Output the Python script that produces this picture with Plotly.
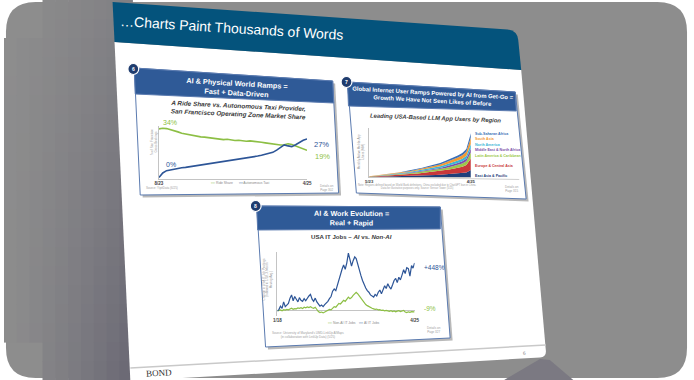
import plotly.graph_objects as go
import pandas as pd

W, H = 694, 380

# ---------------- DATA ----------------
# Chart 6: SF market share (%), Ride Share vs Autonomous Taxi, 8/23 -> 4/25
share_dates = pd.date_range("2023-08-01", "2025-04-30", periods=40)
ride_share = [34.0, 34.4, 34.2, 33.6, 32.8, 31.9, 31.0, 30.4, 29.9, 29.3, 28.9, 28.4, 28.2, 27.8,
              27.4, 27.1, 26.9, 26.5, 26.7, 26.3, 25.9, 26.1, 25.7, 25.4, 25.6, 25.1, 24.8, 24.6,
              24.2, 23.8, 23.4, 23.0, 22.7, 22.9, 23.6, 23.1, 22.0, 20.8, 19.7, 19.0]
autonomous_taxi = [0.0, 3.2, 4.8, 5.4, 5.9, 6.3, 6.8, 7.1, 7.5, 7.9, 8.4, 8.9, 9.1, 9.4, 9.9, 10.2,
                   10.6, 11.0, 11.4, 11.9, 12.4, 12.9, 13.1, 13.6, 14.0, 14.6, 15.0, 15.6, 16.1, 16.6,
                   17.6, 19.2, 21.0, 22.8, 22.1, 21.6, 22.9, 24.6, 26.0, 27.0]
share_ticks = ["8/23", "4/25"]

# Chart 7: LLM app users by region (MM), 5/23 -> 4/25
llm_months = pd.date_range("2023-05-01", "2025-04-01", freq="MS")
east_asia_pacific = [1.4, 2.3, 3.2, 4.1, 5.0, 6.3, 7.6, 8.9, 10.3, 11.7, 13.3, 15.2, 17.1, 19.0, 20.9,
                     23.1, 25.3, 28.5, 31.6, 35.1, 39.2, 43.5, 50.6, 79]
europe_central_asia = [2.1, 3.7, 5.3, 6.9, 8.5, 10.6, 12.7, 14.8, 17.2, 19.6, 22.3, 25.4, 28.6, 31.8,
                       35.0, 38.7, 42.4, 47.7, 53.0, 58.8, 65.7, 72.9, 84.8, 132]
latin_america = [1.0, 1.8, 2.6, 3.5, 4.3, 5.4, 6.5, 7.6, 8.8, 10.0, 11.4, 13.0, 14.6, 16.3, 17.9, 19.8,
                 21.7, 24.4, 27.2, 30.2, 33.7, 37.4, 43.5, 68]
middle_east_na = [0.7, 1.2, 1.7, 2.3, 2.8, 3.5, 4.2, 4.9, 5.7, 6.5, 7.4, 8.4, 9.5, 10.6, 11.6, 12.9,
                  14.1, 15.9, 17.6, 19.6, 21.9, 24.3, 28.2, 44]
north_america = [1.3, 2.1, 2.9, 3.6, 4.3, 5.2, 6.1, 6.9, 7.9, 8.8, 9.8, 11.0, 12.2, 13.4, 14.6, 16.0,
                 17.4, 19.4, 21.4, 23.6, 26.2, 28.9, 33.4, 52]
south_asia = [0.9, 1.7, 2.5, 3.3, 4.1, 5.2, 6.3, 7.4, 8.6, 9.9, 11.3, 13.0, 14.7, 16.4, 18.2, 20.2,
              22.3, 25.2, 28.2, 31.4, 35.2, 39.2, 45.8, 73]
sub_saharan_africa = [0.6, 1.1, 1.6, 2.2, 2.7, 3.4, 4.1, 4.9, 5.7, 6.5, 7.5, 8.6, 9.7, 10.9, 12.0, 13.4,
                      14.8, 16.8, 18.8, 21.0, 23.6, 26.3, 30.8, 49]
region_names = ["East Asia & Pacific", "Europe & Central Asia", "Latin America & Caribbean",
                "Middle East & North Africa", "North America", "South Asia", "Sub-Saharan Africa"]
region_values = [east_asia_pacific, europe_central_asia, latin_america, middle_east_na,
                 north_america, south_asia, sub_saharan_africa]
llm_ticks = ["5/23", "4/25"]

# Chart 8: USA IT job postings, % change vs 1/18, 1/18 -> 4/25
job_months = pd.date_range("2018-01-01", "2025-04-01", freq="MS")
ai_it_jobs = [0, 15, 45, 25, 85, 40, 55, 70, 120, 150, 95, 135, 110, 85, 125, 100, 90, 115, 95, 125,
              140, 155, 110, 90, 120, 85, 60, 45, 55, 40, 60, 75, 90, 115, 135, 185, 205, 190, 240,
              290, 330, 390, 430, 390, 450, 540, 480, 420, 470, 505, 490, 430, 385, 330, 285, 245,
              215, 190, 175, 150, 140, 130, 155, 140, 175, 195, 160, 205, 235, 210, 255, 225, 205,
              245, 285, 305, 265, 315, 290, 335, 385, 350, 405, 395, 325, 425, 400, 448]
non_ai_it_jobs = [0, 5, 10, 2, 12, 8, 15, 10, 18, 25, 15, 22, 20, 28, 25, 30, 22, 35, 30, 38, 32, 40,
                  30, 25, 35, 10, -5, -15, -10, -18, -8, 0, 5, 15, 10, 25, 40, 35, 55, 70, 65, 85,
                  100, 90, 110, 130, 115, 125, 145, 160, 175, 160, 140, 120, 95, 80, 60, 50, 40, 30,
                  25, 20, 15, 18, 10, 12, 5, 8, 2, 5, 0, -3, 2, -5, 0, -8, -2, 3, -5, 0, 5, -10, -15,
                  -8, -12, -6, -10, -9]
job_ticks = ["1/18", "4/25"]

# ---------------- STYLE ----------------
GREEN = "#8dbf45"
BLUE = "#2d5597"
SLIDE_BLUE = "#04537c"
PANEL_BLUE = "#2f5a97"
REGION_COLORS = ["#1f3f7a", "#c9383a", "#9cc74a", "#7b4fa8", "#3cb6d6", "#f39a33", "#3b6fb6"]
SANS = "Arial, Liberation Sans, sans-serif"


def pt(x, y):
    return f"{x / W:.5f},{1 - y / H:.5f}"


def poly(pts):
    return "M " + " L ".join(pt(*p) for p in pts) + " Z"


def pshape(path, fill, line_color=None, line_width=0):
    return dict(type="path", xref="paper", yref="paper", path=path, fillcolor=fill,
                line=dict(color=line_color or fill, width=line_width), layer="below")


def ann(text, x, y, size, color, angle=0, xanchor="center", yanchor="middle", family=SANS, **kw):
    d = dict(text=text, x=x / W, y=1 - y / H, xref="paper", yref="paper", showarrow=False,
             font=dict(size=size, color=color, family=family), textangle=angle,
             xanchor=xanchor, yanchor=yanchor)
    d.update(kw)
    return d


shapes = []
annotations = []

# outer grey rounded background
shapes.append(pshape(
    f"M {pt(32,2)} L {pt(662,2)} Q {pt(692,2)} {pt(692,32)} L {pt(692,348)} Q {pt(692,378)} {pt(662,378)} "
    f"L {pt(32,378)} Q {pt(2,378)} {pt(2,348)} L {pt(2,32)} Q {pt(2,2)} {pt(32,2)} Z", "#8d8d8d"))

# darker shading on the left of the slide
base = (141, 141, 141)
dark = (106, 104, 116)
step_x, step_y = 13, 19
for xi in range(10):
    for yi in range(20):
        x0, y0 = xi * step_x, yi * step_y
        x1, y1 = x0 + step_x, y0 + step_y
        if x0 < 34 and (y0 < 34 or y1 > 346):
            continue
        xc, yc = (x0 + x1) / 2, (y0 + y1) / 2
        t = min(1.0, (xc / 128) ** 1.2 * (0.35 + 0.65 * yc / 380))
        c = tuple(int(round(base[i] + (dark[i] - base[i]) * t)) for i in range(3))
        shapes.append(pshape(poly([(x0, y0), (x1 + 0.6, y0), (x1 + 0.6, y1 + 0.6), (x0, y1 + 0.6)]),
                             f"rgb{c}"))

# soft shadow under slide bottom-right
shapes.append(pshape(poly([(505, 381), (543, 359), (553, 360), (578, 381)]), "#7b7982"))

# slide body
shapes.append(pshape(
    f"M {pt(112,42)} L {pt(524,70)} L {pt(549,351)} Q {pt(549.5,357)} {pt(543,357.5)} "
    f"L {pt(128,381)} Z", "#ffffff"))
# slide header band
shapes.append(pshape(
    f"M {pt(110,2)} L {pt(510,29.5)} Q {pt(520,30.5)} {pt(521,40)} L {pt(524,70)} L {pt(112,42)} Z",
    SLIDE_BLUE))
# footer rule
shapes.append(dict(type="line", xref="paper", yref="paper", x0=128 / W, y0=1 - 368 / H,
                   x1=549 / W, y1=1 - 345 / H, line=dict(color="#c9c9c9", width=1.5), layer="below"))

annotations.append(ann("…Charts Paint Thousands of Words", 231, 27.5, 14, "#ffffff", angle=3.6))
annotations.append(ann("BOND", 157, 381, 9, "#333333", angle=-3, yanchor="bottom",
                       family="Liberation Serif, DejaVu Serif, serif"))
annotations.append(ann("6", 527, 353, 5, "#8a8a8a", angle=-3))

# panels: (outline quad, header quad, badge centre, badge text)
panels = [
    ([(132, 68), (333, 81), (339, 193), (138, 195)],
     [(132, 68), (333, 81), (334, 103), (133, 94)], (131, 69), "6"),
    ([(348, 82), (518, 92), (529, 199), (357, 193)],
     [(348, 82), (518, 92), (519, 111), (349, 106)], (347, 82), "7"),
    ([(256, 206), (442, 207), (452, 338), (265, 347)],
     [(256, 206), (442, 207), (442, 229), (257, 230)], (255, 206), "8"),
]
for outline, header, (cx, cy), num in panels:
    shapes.append(pshape(poly([(x + 2.5, y + 2.5) for x, y in outline]), "#b9b9b9"))
    shapes.append(pshape(poly(outline), "#ffffff", "#5b7bb0", 1))
    shapes.append(pshape(poly(header), PANEL_BLUE, "#5b7bb0", 1))
    r = 5.5
    shapes.append(dict(type="circle", xref="paper", yref="paper", x0=(cx - r) / W, x1=(cx + r) / W,
                       y0=1 - (cy + r) / H, y1=1 - (cy - r) / H, fillcolor="#1f3c6e",
                       line=dict(color="#ffffff", width=1.2), layer="below"))
    annotations.append(ann(f"<b>{num}</b>", cx, cy, 5, "#ffffff"))

# extended baseline under region labels (chart 7)
shapes.append(dict(type="line", xref="paper", yref="paper", x0=370 / W, y0=1 - 177 / H,
                   x1=522 / W, y1=1 - 179.5 / H, line=dict(color="#c4c4c4", width=0.8), layer="below"))

# ----- panel 6 texts -----
annotations.append(ann("<b>AI & Physical World Ramps =<br>Fast + Data-Driven</b>", 236, 88, 7.3,
                       "#ffffff", angle=3.3))
annotations.append(ann("<b><i>A Ride Share vs. Autonomous Taxi Provider,<br>San Francisco Operating Zone Market Share</i></b>",
                       237, 109.5, 6.4, "#3a3a3a", angle=2.6))
annotations.append(ann("% of San Francisco<br>Gross Bookings", 152, 142, 3, "#9a9a9a", angle=-90))
annotations.append(ann(f"<span style='color:{GREEN}'>━━</span> Ride Share      "
                       f"<span style='color:{BLUE}'>━━</span> Autonomous Taxi", 239, 183, 3.4, "#8a8a8a"))
annotations.append(ann("Source: YipitData (6/25)", 142, 188, 3, "#a0a0a0", xanchor="left"))
annotations.append(ann("Details on<br>Page 302", 336, 188, 3, "#a0a0a0", xanchor="right"))

# ----- panel 7 texts -----
annotations.append(ann("<b>Global Internet User Ramps Powered by AI from Get-Go =<br>"
                       "Growth We Have Not Seen Likes of Before</b>", 435, 97.5, 5.9, "#ffffff", angle=3.2))
annotations.append(ann("<b><i>Leading USA-Based LLM App Users by Region</i></b>", 437, 117.5, 5.9,
                       "#3a3a3a", angle=2.2))
annotations.append(ann("Monthly Active Mobile App<br>Users (MM)", 362, 152, 3, "#9a9a9a", angle=-90))
label_y = {"Sub-Saharan Africa": 133.5, "South Asia": 138.5, "North America": 145,
           "Middle East & North Africa": 150, "Latin America & Caribbean": 155.5,
           "Europe & Central Asia": 166, "East Asia & Pacific": 176}
for name, col in zip(region_names, REGION_COLORS):
    annotations.append(ann(f"<b>{name}</b>", 475.5, label_y[name], 3.6, col, xanchor="left"))
annotations.append(ann("Note: Regions defined based on World Bank definitions. China excluded due to ChatGPT ban in China.<br>"
                       "Data for illustrative purposes only. Source: Sensor Tower (5/25)", 357, 186.5, 2.6,
                       "#a0a0a0", xanchor="left"))
annotations.append(ann("Details on<br>Page 315", 524, 189, 3, "#a0a0a0", xanchor="right"))

# ----- panel 8 texts -----
annotations.append(ann("<b>AI & Work Evolution =<br>Real + Rapid</b>", 352, 218.5, 7.2, "#ffffff", angle=0.3))
annotations.append(ann("<b>USA IT Jobs – <i>AI</i> vs. <i>Non-AI</i></b>", 352, 236, 6.1, "#3a3a3a"))
annotations.append(ann("Change in USA IT Job Postings<br>(Indexed to 1/18, 3-Month<br>Moving Avg.)",
                       267, 280, 3, "#9a9a9a", angle=-90))
annotations.append(ann(f"<span style='color:{GREEN}'>━━</span> Non-AI IT Jobs    "
                       f"<span style='color:{BLUE}'>━━</span> AI IT Jobs", 354, 323, 3.4, "#8a8a8a"))
annotations.append(ann("Source: University of Maryland's UMD-LinkUp AIMaps<br>(in collaboration with LinkUp Data) (5/25)",
                       269, 335, 3, "#a0a0a0", xanchor="left"))
annotations.append(ann("Details on<br>Page 327", 445, 330, 3, "#a0a0a0", xanchor="right"))

# ---------------- TRACES ----------------
fig = go.Figure()

# chart 6
fig.add_trace(go.Scatter(x=share_dates, y=ride_share, mode="lines", name="Ride Share",
                         line=dict(color=GREEN, width=1.6), xaxis="x", yaxis="y"))
fig.add_trace(go.Scatter(x=share_dates, y=autonomous_taxi, mode="lines", name="Autonomous Taxi",
                         line=dict(color=BLUE, width=1.6), xaxis="x", yaxis="y"))

# chart 7
for name, vals, col in zip(region_names, region_values, REGION_COLORS):
    fig.add_trace(go.Scatter(x=llm_months, y=vals, mode="lines", name=name, stackgroup="one",
                             line=dict(width=0, color=col), fillcolor=col, xaxis="x2", yaxis="y2"))

# chart 8
fig.add_trace(go.Scatter(x=job_months, y=non_ai_it_jobs, mode="lines", name="Non-AI IT Jobs",
                         line=dict(color=GREEN, width=1.2), xaxis="x3", yaxis="y3"))
fig.add_trace(go.Scatter(x=job_months, y=ai_it_jobs, mode="lines", name="AI IT Jobs",
                         line=dict(color=BLUE, width=1.2), xaxis="x3", yaxis="y3"))

# end / start labels tied to the data
annotations += [
    dict(text="34%", x=share_dates[0], y=ride_share[0], xref="x", yref="y", showarrow=False,
         xanchor="left", xshift=2, yshift=6, font=dict(size=7, color=GREEN, family=SANS)),
    dict(text="0%", x=share_dates[0], y=autonomous_taxi[0], xref="x", yref="y", showarrow=False,
         xanchor="left", xshift=5, yshift=13, font=dict(size=7, color=BLUE, family=SANS)),
    dict(text="27%", x=share_dates[-1], y=autonomous_taxi[-1], xref="x", yref="y", showarrow=False,
         xanchor="left", xshift=5, yshift=-6, font=dict(size=7.5, color=BLUE, family=SANS)),
    dict(text="19%", x=share_dates[-1], y=ride_share[-1], xref="x", yref="y", showarrow=False,
         xanchor="left", xshift=6, yshift=-6, font=dict(size=7.5, color=GREEN, family=SANS)),
    dict(text="+448%", x=job_months[-1], y=ai_it_jobs[-1], xref="x3", yref="y3", showarrow=False,
         xanchor="left", xshift=7, yshift=-4, font=dict(size=6.5, color=BLUE, family=SANS)),
    dict(text="-9%", x=job_months[-1], y=non_ai_it_jobs[-1], xref="x3", yref="y3", showarrow=False,
         xanchor="left", xshift=7, yshift=3, font=dict(size=6.5, color=GREEN, family=SANS)),
]

axis_line = dict(showgrid=False, zeroline=False, showline=True, linecolor="#c4c4c4", linewidth=0.8,
                 ticks="", fixedrange=True)


def xdom(a, b):
    return [a / W, b / W]


def ydom(top, bottom):
    return [1 - bottom / H, 1 - top / H]


fig.update_layout(
    width=W, height=H, autosize=False, margin=dict(l=0, r=0, t=0, b=0),
    paper_bgcolor="#ffffff", plot_bgcolor="rgba(0,0,0,0)", showlegend=False,
    hovermode=False,
    shapes=shapes, annotations=annotations,
    xaxis=dict(axis_line, domain=xdom(157, 307), range=[share_dates[0], share_dates[-1]],
               tickvals=[share_dates[0], share_dates[-1]],
               ticktext=[f"<b>{t}</b>" for t in share_ticks],
               tickfont=dict(size=4.5, color="#404040", family=SANS), anchor="y"),
    yaxis=dict(axis_line, domain=ydom(126, 179), range=[-1, 36], showticklabels=False, anchor="x"),
    xaxis2=dict(axis_line, domain=xdom(370, 473), range=[llm_months[0], llm_months[-1]],
                tickvals=[llm_months[0], llm_months[-1]],
                ticktext=[f"<b>{t}</b>" for t in llm_ticks],
                tickfont=dict(size=4.2, color="#404040", family=SANS), anchor="y2"),
    yaxis2=dict(axis_line, domain=ydom(128, 177), range=[0, 557], showticklabels=False, anchor="x2"),
    xaxis3=dict(axis_line, showline=False, domain=xdom(277, 416), range=[job_months[0], job_months[-1]],
                tickvals=[job_months[0], job_months[-1]],
                ticktext=[f"<b>{t}</b>" for t in job_ticks],
                tickfont=dict(size=4.5, color="#404040", family=SANS), anchor="y3"),
    yaxis3=dict(axis_line, zeroline=True, zerolinecolor="#c4c4c4", zerolinewidth=0.8,
                domain=ydom(252, 316), range=[-47, 551], showticklabels=False, anchor="x3"),
)

fig.write_html("out.html")
